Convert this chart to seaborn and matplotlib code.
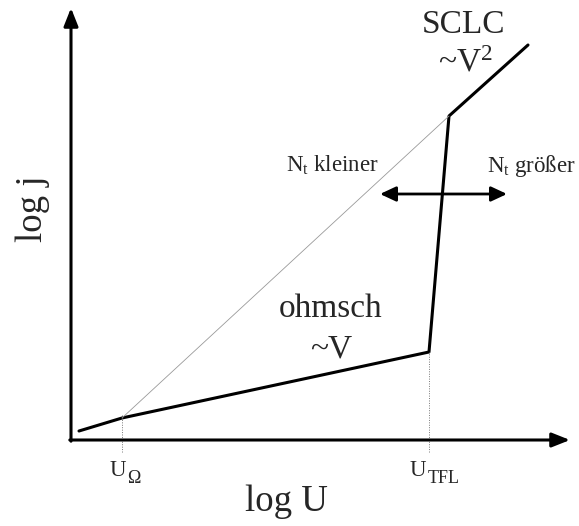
import matplotlib
matplotlib.use("Agg")
import matplotlib.pyplot as plt
import seaborn as sns
import pandas as pd

# Schematic data (log U, log j) in arbitrary units
curve_u = [8, 51, 358, 378, 457]
curve_j = [9, 22, 88, 324, 395]
trapfree_u = [51, 378]
trapfree_j = [22, 324]
u_omega = 51
u_tfl = 358
tick_base = ["U", "U"]
tick_sub = ["Ω", "TFL"]

sns.set_theme(style="white")
plt.rcParams["font.family"] = ["Liberation Serif", "DejaVu Serif"]
plt.rcParams["mathtext.fontset"] = "custom"
plt.rcParams["mathtext.rm"] = "Liberation Serif"
plt.rcParams["mathtext.it"] = "Liberation Serif:italic"

fig = plt.figure(figsize=(5.79, 5.26), dpi=100)
ax = fig.add_axes([0, 0, 1, 1])
ax.set_xlim(-71, 508)
ax.set_ylim(-86, 440)
ax.axis("off")

df = pd.DataFrame({"u": curve_u, "j": curve_j})
sns.lineplot(data=df, x="u", y="j", sort=False, color="black", lw=2.2, ax=ax)
sns.lineplot(x=trapfree_u, y=trapfree_j, sort=False, color="#999999", lw=0.6, ax=ax)

# vertical guide lines
for xv, yv in [(u_omega, curve_j[1] + 3), (u_tfl, curve_j[2])]:
    ax.plot([xv, xv], [-12, yv], ls=(0, (1, 1.5)), color="#777777", lw=0.7)

# axes arrows
axis_arrow = dict(arrowstyle="-|>,head_length=0.68,head_width=0.27", color="black",
                  lw=2.2, mutation_scale=16, shrinkA=0, shrinkB=0)
ax.annotate("", xy=(0, 432), xytext=(0, -1.2), arrowprops=axis_arrow)
ax.annotate("", xy=(499, 0), xytext=(-1.2, 0), arrowprops=axis_arrow)
# double arrow
ax.annotate("", xy=(309, 246), xytext=(436, 246),
            arrowprops=dict(arrowstyle="<|-|>,head_length=0.6,head_width=0.28",
                            color="black", lw=2.0, mutation_scale=16,
                            shrinkA=0, shrinkB=0))

# tick labels with large subscripts
for xb, xs, base, sub in [(39, 56, tick_base[0], tick_sub[0]),
                          (339, 357, tick_base[1], tick_sub[1])]:
    ax.text(xb, -36, base, ha="left", va="baseline", fontsize=16.5)
    ax.text(xs, -43, sub, ha="left", va="baseline", fontsize=13)

ax.text(215, -71, "log U", ha="center", va="baseline", fontsize=26.5)
ax.text(-38, 231, "log j", ha="center", va="center", fontsize=26.5, rotation=90)
ax.text(393, 407, "SCLC", ha="center", va="baseline", fontsize=24)
ax.text(394, 368, "~V$^2$", ha="center", va="baseline", fontsize=24)
ax.text(261, 268, "N$_\\mathrm{t}$ kleiner", ha="center", va="baseline", fontsize=16.5)
ax.text(460, 268, "N$_\\mathrm{t}$ größer", ha="center", va="baseline", fontsize=16.5)
ax.text(260, 123, "ohmsch", ha="center", va="baseline", fontsize=24)
ax.text(260, 83, "~V", ha="center", va="baseline", fontsize=24)

fig.savefig("out.png", dpi=100)
